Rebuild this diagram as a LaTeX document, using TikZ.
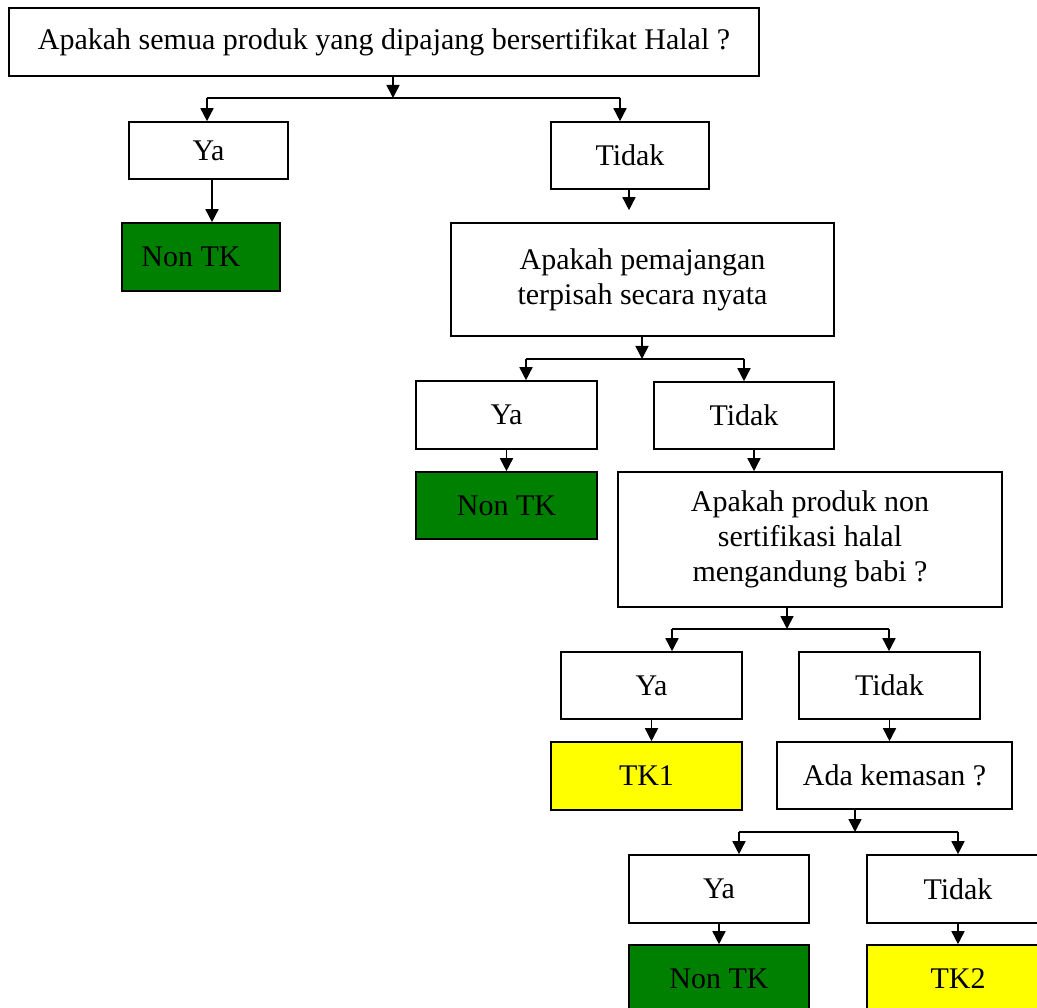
\documentclass[tikz,border=0pt]{standalone}
\usepackage{fontspec}
\setmainfont{Liberation Serif}
\usetikzlibrary{arrows.meta}
\definecolor{tkgreen}{HTML}{008000}
\definecolor{tkyellow}{HTML}{FFFF00}

\begin{document}
\begin{tikzpicture}[x=1pt,y=-1pt,
    box/.style={draw,line width=1.6pt,inner sep=0pt,align=center,fill=white,
      font=\fontsize{30}{35}\selectfont},
    size/.style 2 args={minimum width=#1pt,minimum height=#2pt},
    nontk/.style={box,fill=tkgreen},
    tk/.style={box,fill=tkyellow},
    arr/.style={-{Triangle[width=13pt,length=13pt]},line width=1.6pt},
    link/.style={line width=1.6pt}]
  \useasboundingbox (0,0) rectangle (1037,1008);
  \clip (0,0) rectangle (1037,1008);
  \fill[white] (0,0) rectangle (1037,1008);

  \draw node (q1) [box,size={750}{68}] at (384,42) {Apakah semua produk yang dipajang bersertifikat Halal ?}
        node (ya1) [box,size={159}{57}] at (208.5,150.5) {Ya}
        node (nt1) [nontk,size={158}{68}] at (201,257) {Non TK\hspace*{20pt}}
        node (t1) [box,size={158}{67}] at (630,155.5) {Tidak}
        node (q2) [box,size={383}{113}] at (642.5,279.5) {Apakah pemajangan\\terpisah secara nyata}
        node (ya2) [box,size={181}{68}] at (506.5,415) {Ya}
        node (nt2) [nontk,size={181}{67}] at (506.5,505.5) {Non TK}
        node (t2) [box,size={180}{67}] at (744,415.5) {Tidak}
        node (q3) [box,size={384}{135}] at (810,539.5) {Apakah produk non\\sertifikasi halal\\mengandung babi ?}
        node (ya3) [box,size={181}{67}] at (651.5,685.5) {Ya}
        node (tk1) [tk,size={191}{68}] at (646.5,776) {TK1}
        node (t3) [box,size={181}{67}] at (889.5,685.5) {Tidak}
        node (q4) [box,size={235}{67}] at (894.5,775.5) {Ada kemasan ?}
        node (ya4) [box,size={180}{68}] at (719,889) {Ya}
        node (nt3) [nontk,size={180}{68}] at (719,979) {Non TK}
        node (t4) [box,size={182}{68}] at (958,889) {Tidak}
        node (tk2) [tk,size={182}{68}] at (958,979) {TK2};

  % first question
  \coordinate (j1) at (393,98);
  \coordinate (j1l) at (207,98);
  \coordinate (j1r) at (620,98);
  \draw[arr] (j1 |- q1.south) -- (j1);
  \draw[link] (j1l) -- (j1r);
  \draw[arr] (j1l) -- (j1l |- ya1.north);
  \draw[arr] (j1r) -- (j1r |- t1.north);
  \draw[arr] ([xshift=3.5pt]ya1.south) -- ([xshift=3.5pt]ya1.south |- nt1.north);
  \draw[arr,shorten >=12pt] ([xshift=-1pt]t1.south) -- ([xshift=-1pt]t1.south |- q2.north);

  % second question
  \coordinate (j2) at (642,359);
  \coordinate (j2l) at (526,359);
  \coordinate (j2r) at (744,359);
  \draw[arr] (j2 |- q2.south) -- (j2);
  \draw[link] (j2l) -- (j2r);
  \draw[arr] (j2l) -- (j2l |- ya2.north);
  \draw[arr] (j2r) -- (j2r |- t2.north);
  \draw[arr] (ya2.south) -- (nt2.north);
  \draw[arr] ([xshift=10pt]t2.south) -- ([xshift=10pt]t2.south |- q3.north);

  % third question
  \coordinate (j3) at (787,629);
  \coordinate (j3l) at (672,629);
  \coordinate (j3r) at (889,629);
  \draw[arr] (j3 |- q3.south) -- (j3);
  \draw[link] (j3l) -- (j3r);
  \draw[arr] (j3l) -- (j3l |- ya3.north);
  \draw[arr] (j3r) -- (j3r |- t3.north);
  \draw[arr] (ya3.south) -- (ya3.south |- tk1.north);
  \draw[arr] (t3.south) -- (t3.south |- q4.north);

  % packaging
  \coordinate (j4) at (855,832);
  \coordinate (j4l) at (739,832);
  \coordinate (j4r) at (958,832);
  \draw[arr] (j4 |- q4.south) -- (j4);
  \draw[link] (j4l) -- (j4r);
  \draw[arr] (j4l) -- (j4l |- ya4.north);
  \draw[arr] (j4r) -- (j4r |- t4.north);
  \draw[arr] (ya4.south) -- (nt3.north);
  \draw[arr] (t4.south) -- (tk2.north);
\end{tikzpicture}
\end{document}
